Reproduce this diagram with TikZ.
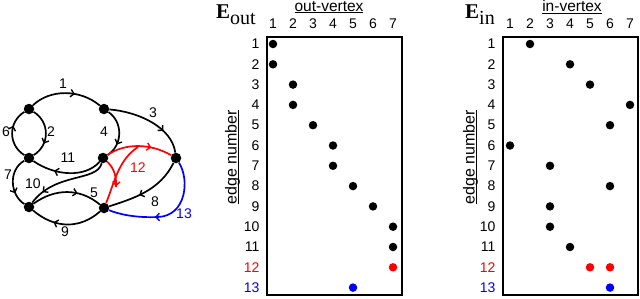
\documentclass[tikz,border=0pt]{standalone}
\usepackage{fontspec}
\setmainfont{Liberation Sans}
\newfontfamily\serifE{Liberation Serif}
\usetikzlibrary{arrows.meta,decorations.markings}
\definecolor{pred}{RGB}{255,0,0}
\definecolor{pblue}{RGB}{0,0,255}
\newlength\myulw
\newcommand\myul[1]{\settowidth{\myulw}{#1}\makebox[0pt][l]{\rule[-2pt]{\myulw}{0.8pt}}#1}
\begin{document}
\begin{tikzpicture}[x=1pt,y=-1pt,
  font=\fontsize{14}{16}\selectfont,
  vtx/.style={circle,fill=black,inner sep=0pt,minimum size=10.5pt},
  mdot/.style={circle,fill=black,inner sep=0pt,minimum size=8.5pt},
  edg/.style={line width=1.7pt},
  marr/.style={postaction={decorate},decoration={markings,mark=at position #1 with {\arrow{Straight Barb[length=3.5pt,width=7.5pt,line width=1.4pt]}}}},
  box/.style={draw,line width=2pt},
  lbl/.style={inner sep=1pt},
  ttl/.style={font=\fontsize{15.5}{17}\selectfont},
  vttl/.style={rotate=90,inner sep=0pt,font=\fontsize{16}{18}\selectfont}]
\useasboundingbox (0,0) rectangle (640,298);
% ---------- graph ----------
\node[vtx] (A) at (29,109) {};
\node[vtx] (B) at (104,109) {};
\node[vtx] (C) at (29,158) {};
\node[vtx] (D) at (103,158) {};
\node[vtx] (E) at (176,158) {};
\node[vtx] (F) at (29,207) {};
\node[vtx] (G) at (104,208) {};
\draw[edg,marr=0.62] (A) .. controls (50,89) and (80,89) .. (B);
\draw[edg,marr=0.65] (C) .. controls (8,145) and (8,122) .. (A);
\draw[edg,marr=0.7] (A) .. controls (50,122) and (50,145) .. (C);
\draw[edg,marr=0.7] (B) .. controls (140,112) and (172,128) .. (E);
\draw[edg,marr=0.72] (B) .. controls (123,122) and (123,145) .. (D);
\draw[edg,marr=0.68] (D) .. controls (85,178) and (55,176) .. (C);
\draw[edg,marr=0.72] (C) .. controls (8,170) and (10,195) .. (F);
\draw[edg,marr=0.82] (D) .. controls (97,182) and (55,172) .. (F);
\draw[edg,marr=0.65] (F) .. controls (55,188) and (80,188) .. (G);
\draw[edg,marr=0.68] (G) .. controls (80,229) and (55,229) .. (F);
\draw[edg,marr=0.6] (E) .. controls (160,190) and (135,198) .. (G);
% blue 13
\coordinate (b13) at (158,217);
\draw[edg,pblue] (E) .. controls (190,180) and (186,216) .. (b13);
\draw[edg,pblue,marr=0.06] (b13) .. controls (135,218) and (118,214) .. (G);
% red 12 (hyperedge)
\coordinate (j12) at (138,147);
\coordinate (t12) at (116,187);
\draw[edg,pred,marr=0.68] (D) .. controls (125,143) and (150,143) .. (E);
\draw[edg,pred] (G) .. controls (114,184) and (118,160) .. (j12);
\draw[edg,pred,marr=0.97] (D) .. controls (112,166) and (117,174) .. (t12);
% edge labels
\node[lbl] (l1) at (63,84) {1};
\node[lbl] (l2) at (51,132) {2};
\node[lbl] (l3) at (153,113) {3};
\node[lbl] (l4) at (104,132) {4};
\node[lbl] (l5) at (94,193) {5};
\node[lbl] (l6) at (6,132) {6};
\node[lbl] (l7) at (8,175) {7};
\node[lbl] (l8) at (155,202) {8};
\node[lbl] (l9) at (65,232) {9};
\node[lbl] (l10) at (33,184) {10};
\node[lbl] (l11) at (68,158) {11};
\node[lbl,text=pred] (l12) at (138,168) {12};
\node[lbl,text=pblue] (l13) at (184,214) {13};
% ---------- E_out ----------
\node[anchor=base west,inner sep=0pt] (Eout) at (216,18) {\serifE\fontsize{21}{21}\selectfont\bfseries E\mdseries\fontsize{20}{20}\selectfont\raisebox{-6.5pt}{out}};
\node[ttl] (ovx) at (329,7) {\myul{out-vertex}};
\node[vttl,anchor=base] (enl) at (236.5,157) {\myul{edge number}};
\draw[box] (267,37) rectangle (402,295);
\foreach \c in {1,...,7} \node (oc\c) at ({273+20*(\c-1)},24) {\c};
\foreach \r in {1,...,11} \node[anchor=east] (or\r) at (263,{44+20.3*(\r-1)}) {\r};
\node[anchor=east,text=pred] (or12) at (263,{44+20.3*11}) {12};
\node[anchor=east,text=pblue] (or13) at (263,{44+20.3*12}) {13};
\foreach \r/\c in {1/1,2/1,3/2,4/2,5/3,6/4,7/4,8/5,9/6,10/7,11/7}
  \node[mdot] (od\r) at ({273+20*(\c-1)},{44+20.3*(\r-1)}) {};
\node[mdot,fill=pred] (od12) at ({273+20*6},{44+20.3*11}) {};
\node[mdot,fill=pblue] (od13) at ({273+20*4},{44+20.3*12}) {};
% ---------- E_in ----------
\node[anchor=base west,inner sep=0pt] (Ein) at (465,18) {\serifE\fontsize{21}{21}\selectfont\bfseries E\mdseries\fontsize{20}{20}\selectfont\raisebox{-6.5pt}{in}};
\node[ttl] (ivx) at (572,7) {\myul{in-vertex}};
\node[vttl,anchor=base] (enr) at (474.5,157) {\myul{edge number}};
\draw[box] (503,37) rectangle (638,295);
\foreach \c in {1,...,7} \node (ic\c) at ({510+20*(\c-1)},24) {\c};
\foreach \r in {1,...,11} \node[anchor=east] (ir\r) at (499,{44+20.3*(\r-1)}) {\r};
\node[anchor=east,text=pred] (ir12) at (499,{44+20.3*11}) {12};
\node[anchor=east,text=pblue] (ir13) at (499,{44+20.3*12}) {13};
\foreach \r/\c in {1/2,2/4,3/5,4/7,5/6,6/1,7/3,8/6,9/3,10/3,11/4}
  \node[mdot] (id\r) at ({510+20*(\c-1)},{44+20.3*(\r-1)}) {};
\node[mdot,fill=pred] (id12a) at ({510+20*4},{44+20.3*11}) {};
\node[mdot,fill=pred] (id12b) at ({510+20*5},{44+20.3*11}) {};
\node[mdot,fill=pblue] (id13) at ({510+20*5},{44+20.3*12}) {};
\end{tikzpicture}
\end{document}
